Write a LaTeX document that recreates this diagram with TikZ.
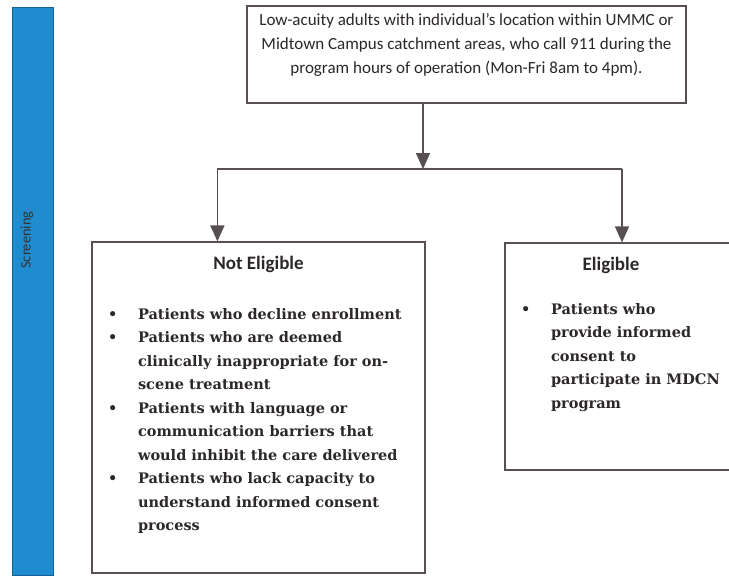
\documentclass[tikz,border=0pt]{standalone}
\usepackage{fontspec}
\setmainfont{DejaVu Serif}
\newfontfamily\calib{Carlito}
\usetikzlibrary{arrows.meta,positioning,calc}

\definecolor{linegray}{RGB}{88,80,80}
\definecolor{barblue}{RGB}{32,140,208}
\definecolor{inkgray}{RGB}{45,40,40}

% bullet and continuation indent for the lists
\newcommand{\bul}{\makebox[30pt][l]{\textbullet}}
\newcommand{\ind}{\hspace*{30pt}}

\begin{document}
\begin{tikzpicture}
  [
  x=1pt, y=-1pt, line width=1.3pt, draw=linegray,
  >={Triangle[width=14pt,length=16pt]},
  boxnode/.style={rectangle, draw=linegray, line width=1.2pt, fill=white, inner sep=0pt},
  headtext/.style={font=\calib\fontsize{17}{24}\selectfont, align=center, text=inkgray, inner sep=0pt},
  titletext/.style={font=\calib\bfseries\fontsize{19}{20}\selectfont, text=inkgray, inner sep=0pt},
  listtext/.style={font=\bfseries\fontsize{14.5}{23.5}\selectfont, align=left, text=inkgray, inner sep=0pt},
  flow/.style={->, draw=linegray, line width=1.6pt},
  ]

  \useasboundingbox (0,0) rectangle (729,578);

  % side bar
  \node[rectangle, fill=barblue, draw=barblue!70!black, line width=0.8pt,
    minimum width=41pt, minimum height=568pt] (bar) at (33,291) {};
  \node[rotate=90, font=\calib\fontsize{14.5}{15}\selectfont, text=black!80] (barlabel) at (27,240) {Screening};

  % boxes
  \node[boxnode, minimum width=439pt, minimum height=97pt] (call) at (466.5,54.5) {};
  \node[headtext] (calltext) at ($(call.center)+(0,-10)$)
    {Low-acuity adults with individual’s location within UMMC or\\
     Midtown Campus catchment areas, who call 911 during the\\
     program hours of operation (Mon-Fri 8am to 4pm).};

  \node[boxnode, minimum width=333pt, minimum height=331pt] (noelig) at (258.5,407.5) {};
  \node[titletext, anchor=north] (notitle) at ($(noelig.north)+(0,14)$) {Not Eligible};
  \node[listtext, anchor=north west] (nolist) at ($(noelig.north west)+(16,66)$)
    {\bul Patients who decline enrollment\\
     \bul Patients who are deemed\\
     \ind clinically inappropriate for on-\\
     \ind scene treatment\\
     \bul Patients with language or\\
     \ind communication barriers that\\
     \ind would inhibit the care delivered\\
     \bul Patients who lack capacity to\\
     \ind understand informed consent\\
     \ind process};

  % right side runs off the page
  \node[boxnode, minimum width=230pt, minimum height=227pt] (elig) at (620,356.5) {};
  \node[titletext, anchor=north] (eltitle) at ($(elig.north)+(-9,14)$) {Eligible};
  \node[listtext, anchor=north west] (ellist) at ($(elig.north west)+(16,60)$)
    {\bul Patients who\\
     \ind provide informed\\
     \ind consent to\\
     \ind participate in MDCN\\
     \ind program};

  % connectors
  \coordinate (split) at (423,169);
  \coordinate (noin) at ($(noelig.north west)+(126,0)$);
  \coordinate (elin) at ($(elig.north)+(2,0)$);

  \draw[flow] (split |- call.south) -- (split);
  \draw[line width=1.6pt] (noin |- split) -- (elin |- split);
  \draw[flow] (noin |- split) -- (noin);
  \draw[flow] (elin |- split) -- (elin);

\end{tikzpicture}
\end{document}
